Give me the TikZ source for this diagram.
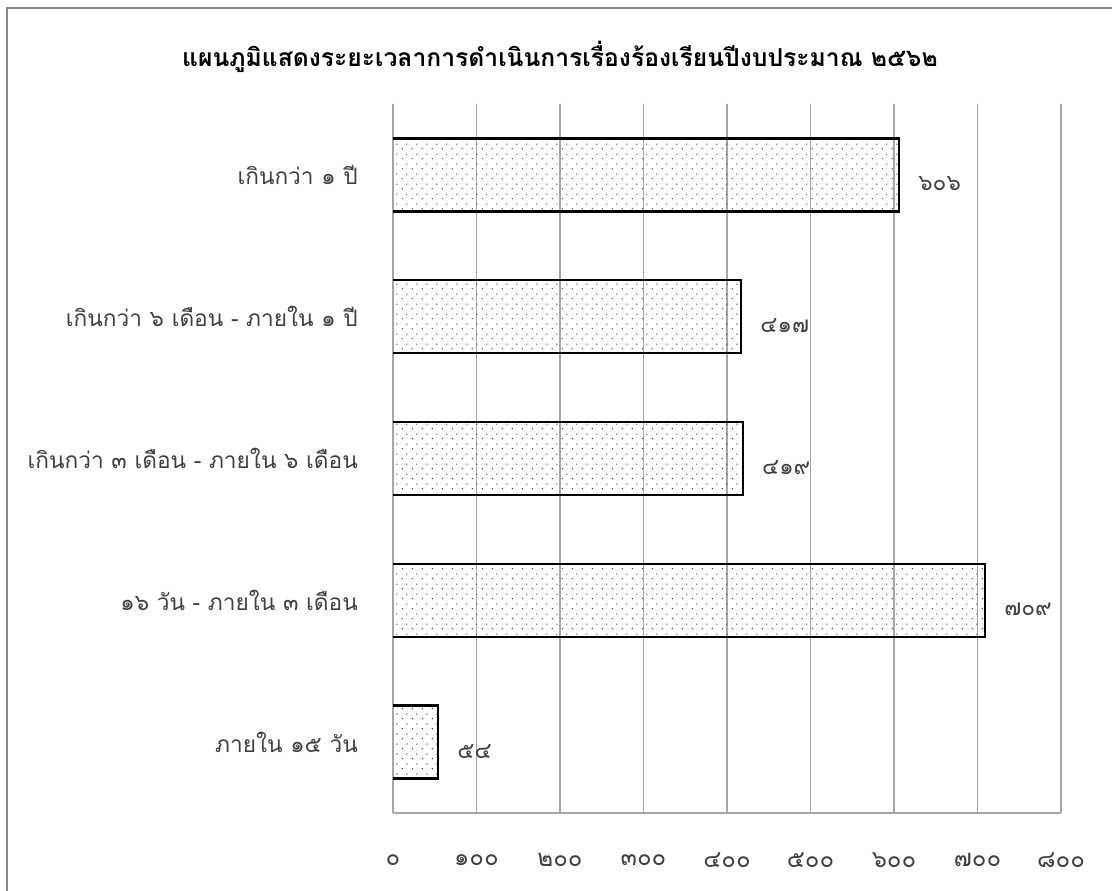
\documentclass[tikz,border=0pt]{standalone}
\usepackage{fontspec}
\newfontfamily\thai[Script=Thai]{Loma}
\usetikzlibrary{patterns.meta}
\tikzdeclarepattern{
  name=sparsedots,
  type=uncolored,
  bounding box={(0pt,0pt) and (7.5pt,7.5pt)},
  tile size={(7.5pt,7.5pt)},
  code={
    \pgfpathcircle{\pgfpoint{1.875pt}{1.875pt}}{0.55pt}
    \pgfpathcircle{\pgfpoint{5.625pt}{5.625pt}}{0.55pt}
    \pgfusepath{fill}
  }
}
\definecolor{framegray}{HTML}{888888}
\definecolor{gridgray}{HTML}{A6A6A6}
\definecolor{txtgray}{HTML}{404040}
\tikzset{
  frame/.style={draw=framegray, line width=1.8pt},
  gridline/.style={draw=gridgray, line width=0.8pt},
  barfill/.style={pattern={sparsedots}, pattern color=black!85},
  baredge/.style={draw=black, line width=1.9pt},
  ticklbl/.style={font=\thai\fontsize{18}{21}\selectfont, text=txtgray, inner sep=0pt},
  catlbl/.style={font=\thai\fontsize{17}{20}\selectfont, text=txtgray, anchor=east, inner sep=0pt},
  vallbl/.style={font=\thai\fontsize{17}{20}\selectfont, text=txtgray, anchor=west, inner sep=0pt},
  titlelbl/.style={font=\thai\bfseries\fontsize{18.5}{22}\selectfont, text=black, inner sep=0pt}
}
\begin{document}
\begin{tikzpicture}[x=0.75pt,y=-0.75pt]
\useasboundingbox (0,0) rectangle (1112,891);
% outer frame (left and top edges visible)
\coordinate (fbl) at (7,895);
\coordinate (ftl) at (7,8);
\coordinate (ftr) at (1116,8);
\draw[frame] (fbl) -- (ftl) -- (ftr);
% title
\node[titlelbl] (title) at (560,57) {แผนภูมิแสดงระยะเวลาการดำเนินการเรื่องร้องเรียนปีงบประมาณ ๒๕๖๒};
% grid
\foreach \v/\t in {0/๐,1/๑๐๐,2/๒๐๐,3/๓๐๐,4/๔๐๐,5/๕๐๐,6/๖๐๐,7/๗๐๐,8/๘๐๐}{
  \coordinate (gt\v) at ({393+83.5*\v},104);
  \coordinate (gb\v) at ({393+83.5*\v},813);
  \draw[gridline] (gt\v) -- (gb\v);
  \node[ticklbl] (tick\v) at ({393+83.5*\v},860) {\t};
}
\draw[gridline] (gb0) -- (gb8);
% bars
\foreach \i/\val/\vt/\cat in {
  0/606/๖๐๖/เกินกว่า ๑ ปี,
  1/417/๔๑๗/เกินกว่า ๖ เดือน - ภายใน ๑ ปี,
  2/419/๔๑๙/เกินกว่า ๓ เดือน - ภายใน ๖ เดือน,
  3/709/๗๐๙/๑๖ วัน - ภายใน ๓ เดือน,
  4/54/๕๔/ภายใน ๑๕ วัน}{
  \pgfmathsetmacro{\yc}{104+141.8*(\i+0.5)}
  \pgfmathsetmacro{\xe}{393+0.835*\val}
  \coordinate (b\i tl) at (393,\yc-36.5);
  \coordinate (b\i br) at (\xe,\yc+36.5);
  \coordinate (b\i bl) at (393,\yc+36.5);
  \path[barfill] (b\i tl) rectangle (b\i br);
  \draw[baredge] (b\i tl) -| (b\i br) -- (b\i bl);
  \node[vallbl] (val\i) at (\xe+19,\yc+9) {\vt};
  \node[catlbl] (cat\i) at (358,\yc) {\cat};
}
\end{tikzpicture}
\end{document}
